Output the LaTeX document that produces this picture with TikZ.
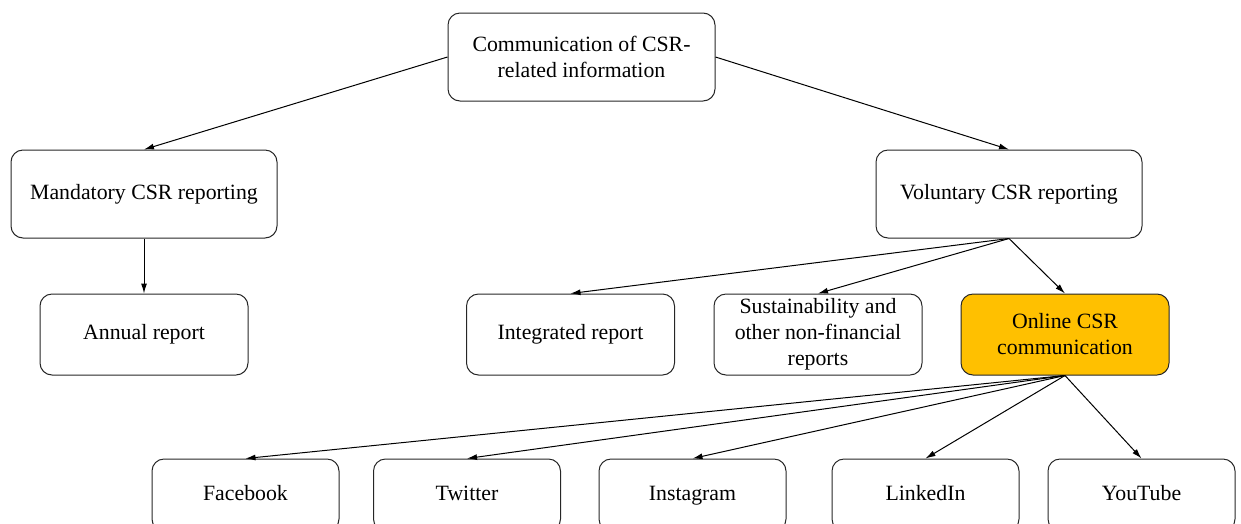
\documentclass[tikz,border=0pt]{standalone}
\usepackage{fontspec}
\setmainfont{Liberation Serif}
\usetikzlibrary{arrows.meta}
\definecolor{csrorange}{HTML}{FFC000}
\tikzset{
  box/.style={draw=black!85, rounded corners=12pt, line width=1pt, align=center, inner sep=0pt,
    font=\fontsize{21.8}{26}\selectfont},
  hilite/.style={box, fill=csrorange},
  conn/.style={line width=1pt, -{Latex[length=10pt,width=6pt]}}
}
\begin{document}
\begin{tikzpicture}[x=1pt,y=-1pt]
    \clip (0,0) rectangle (1241,523);
    % Top level
    \node[box, minimum width=267pt, minimum height=88pt] (comm) at (581.5,57) {Communication of CSR-\\related information};
    % Second level
    \node[box, minimum width=266pt, minimum height=88pt] (mand) at (144,194) {\strut Mandatory CSR reporting};
    \node[box, minimum width=266pt, minimum height=88pt] (vol) at (1009,194) {\strut Voluntary CSR reporting};
    \draw[conn] (comm.west) -- (mand.north);
    \draw[conn] (comm.east) -- (vol.north);
    % Third level
    \node[box, minimum width=208pt, minimum height=81pt] (annual) at (144,334.5) {\strut Annual report};
    \node[box, minimum width=208pt, minimum height=81pt] (integ) at (570.5,334.5) {\strut Integrated report};
    \node[box, minimum width=208pt, minimum height=81pt] (sust) at (818,334.5) {Sustainability and\\other non-financial\\reports};
    \node[hilite, minimum width=208pt, minimum height=81pt] (online) at (1065,334.5) {Online CSR\\communication};
    \draw[conn] (mand.south) -- (annual.north);
    \foreach \n in {integ,sust,online}
        \draw[conn] (vol.south) -- (\n.north);
    % Channels
    \foreach \n/\lbl/\cx in {fb/Facebook/245.5, tw/Twitter/467, ig/Instagram/692.5, li/LinkedIn/925.5, yt/YouTube/1141.5} {
        \node[box, minimum width=187pt, minimum height=72pt] (\n) at (\cx,495) {\strut\lbl};
        \draw[conn] (online.south) -- (\n.north);
    }
\end{tikzpicture}
\end{document}
